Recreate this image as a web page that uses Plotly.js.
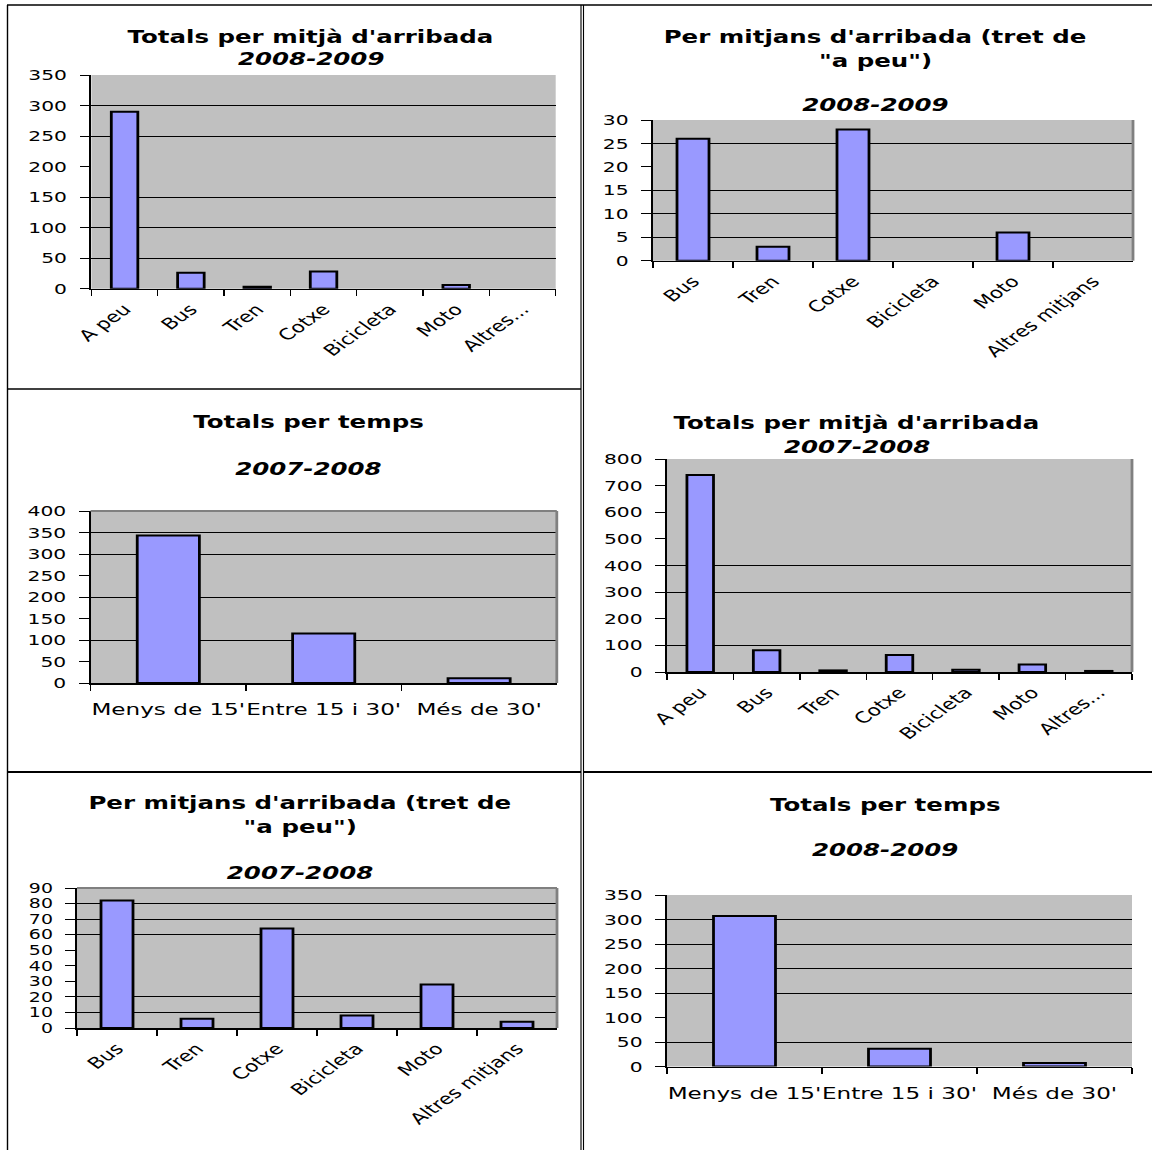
<!DOCTYPE html>
<html><head><meta charset="utf-8">
<script src="https://cdn.plot.ly/plotly-3.0.1.min.js"></script>
<style>
html,body{margin:0;padding:0;background:#fff;overflow:hidden;}
#chart{width:823px;height:1150px;transform:scaleX(1.39976);transform-origin:0 0;}
</style></head><body><div id="chart"></div>
<script>
// ---- data ----
const meansAll = ['A peu','Bus','Tren','Cotxe','Bicicleta','Moto','Altres...'];
const meansExcl = ['Bus','Tren','Cotxe','Bicicleta','Moto','Altres mitjans'];
const timeCats = ["Menys de 15'","Entre 15 i 30'","Més de 30'"];
const totals0809 = [290,26,3,28,0,6,0];
const excl0809 = [26,3,28,0,6,0];
const time0708 = [343,115,11];
const totals0708 = [740,82,6,64,8,28,4];
const excl0708 = [82,6,64,8,28,4];
const time0809 = [307,36,7];
const titleTotalsMeans = "Totals per mitjà d'arribada";
const titleExcl1 = "Per mitjans d'arribada (tret de";
const titleExcl2 = "\"a peu\")";
const titleTime = "Totals per temps";
const year0809 = "2008-2009";
const year0708 = "2007-2008";

// ---- layout of panels (pixel positions in the 1152x1150 picture) ----
const W = 1152, H = 1150;
const FONT = "DejaVu Sans";
const panels = [
  {cats: meansAll, vals: totals0809, px:[91.4,555.7], py:[75,288.7], range:[0,350], dtick:50, grid:[50,100,150,250,300], angle:-45, border:[],
   cx:311, titles:[["<b>"+titleTotalsMeans+"</b>",37],["<b><i>"+year0809+"</i></b>",59]], tf:14.5},
  {cats: meansExcl, vals: excl0809, px:[653,1133], py:[120,260.7], range:[0,30], dtick:5, grid:[5,10,15,25], angle:-45, border:['right'],
   cx:875, titles:[["<b>"+titleExcl1+"</b>",37],["<b>"+titleExcl2+"</b>",61],["<b><i>"+year0809+"</i></b>",105]], tf:14.5},
  {cats: timeCats, vals: time0708, px:[90.6,556.8], py:[511,683], range:[0,400], dtick:50, grid:[100,200,300,350], angle:0, border:['top','right'],
   cx:309, titles:[["<b>"+titleTime+"</b>",422],["<b><i>"+year0708+"</i></b>",469]], tf:14.5},
  {cats: meansAll, vals: totals0708, px:[667,1132], py:[459,672], range:[0,800], dtick:100, grid:[100,300,400], angle:-45, border:['right'],
   cx:857, titles:[["<b>"+titleTotalsMeans+"</b>",423],["<b><i>"+year0708+"</i></b>",447]], tf:14.5},
  {cats: meansExcl, vals: excl0708, px:[77,557], py:[888,1028], range:[0,90], dtick:10, grid:[10,20,60,70,80], angle:-45, border:['top','right'],
   cx:300, titles:[["<b>"+titleExcl1+"</b>",803],["<b>"+titleExcl2+"</b>",827],["<b><i>"+year0708+"</i></b>",873]], tf:13.5},
  {cats: timeCats, vals: time0809, px:[667,1132], py:[895,1066.5], range:[0,350], dtick:50, grid:[50,150,200,250,300], angle:0, border:[],
   cx:885, titles:[["<b>"+titleTime+"</b>",805],["<b><i>"+year0809+"</i></b>",850]], tf:14.5}
];

const data = [];
const layout = {
  width: 823, height: 1150,
  margin: {l:0, r:0, t:0, b:0},
  paper_bgcolor: '#ffffff',
  showlegend: false,
  bargap: 0.6,
  font: {family: FONT, color: '#000'},
  annotations: [],
  shapes: []
};

panels.forEach((p, i) => {
  const n = i + 1;
  const g = i + 7;
  const xs = n === 1 ? '' : String(n);
  const xa = 'x' + xs, ya = 'y' + xs, yg = 'y' + g;
  data.push({
    type: 'bar', x: p.cats, y: p.vals, xaxis: xa, yaxis: ya,
    marker: {color: '#9999FF', line: {color: '#000', width: p.vals.map(v => v > 0 ? 2 : 0)}},
    hoverinfo: 'x+y'
  });
  data.push({type: 'bar', x: [], y: [], xaxis: xa, yaxis: yg, showlegend: false, hoverinfo: 'skip'});
  layout['xaxis' + xs] = {
    domain: [p.px[0]/W, p.px[1]/W], anchor: ya, type: 'category',
    showgrid: false, zeroline: false, showline: true, linecolor: '#000', linewidth: 1.5,
    ticks: 'outside', tickson: 'boundaries', ticklen: 6, tickcolor: '#000', tickwidth: 1,
    tickangle: p.angle, ticklabelstandoff: p.angle === 0 ? 11 : 4,
    tickfont: {family: FONT, size: p.angle === 0 ? 16.5 : 15.5, color: '#000'},
    fixedrange: true
  };
  layout['yaxis' + xs] = {
    domain: [1 - p.py[1]/H, 1 - p.py[0]/H], anchor: xa,
    range: p.range, dtick: p.dtick, tick0: 0,
    showgrid: false, zeroline: false, showline: true, linecolor: '#000', linewidth: 1.5,
    ticks: 'outside', ticklen: 7, tickcolor: '#000', tickwidth: 1,
    ticklabelstandoff: 6,
    tickfont: {family: FONT, size: p.tf, color: '#000'},
    fixedrange: true
  };
  layout['yaxis' + g] = {
    overlaying: ya, anchor: xa, side: 'left', range: p.range,
    tickmode: 'array', tickvals: p.grid, showticklabels: false, ticks: '',
    showgrid: true, gridcolor: '#000', gridwidth: 1, zeroline: false, showline: false,
    fixedrange: true
  };
  layout.shapes.push({type:'rect', xref: xa + ' domain', yref: ya + ' domain', x0:0, x1:1, y0:0, y1:1,
    fillcolor:'#C0C0C0', line:{width:0}, layer:'below'});
  p.border.forEach(side => {
    const s = {type:'line', xref: xa + ' domain', yref: ya + ' domain', line:{color:'#808080', width:2}};
    if (side === 'right') Object.assign(s, {x0:1, x1:1, y0:0, y1:1});
    else Object.assign(s, {x0:0, x1:1, y0:1, y1:1});
    layout.shapes.push(s);
  });
  p.titles.forEach(t => {
    layout.annotations.push({
      xref:'paper', yref:'paper', x: p.cx/W, y: 1 - t[1]/H, xanchor:'center', yanchor:'middle',
      text: t[0], showarrow:false, font:{family: FONT, size: 17.5, color:'#000'}
    });
  });
});

// page frame lines
function hline(x0, x1, y, w){ layout.shapes.push({type:'line', xref:'paper', yref:'paper', x0:x0/W, x1:x1/W, y0:1-y/H, y1:1-y/H, line:{color:'#000', width:w}}); }
function vline(x, y0, y1, w){ layout.shapes.push({type:'line', xref:'paper', yref:'paper', x0:x/W, x1:x/W, y0:1-y0/H, y1:1-y1/H, line:{color:'#000', width:w}}); }
hline(7, 1152, 5, 1.5);
vline(7.5, 5, 1150, 1);
vline(581, 5, 1150, 0.8);
vline(583.5, 5, 1150, 0.8);
hline(7.5, 581, 389, 1.5);
hline(7.5, 581, 772, 2);
hline(583.5, 1152, 772, 2);

Plotly.newPlot('chart', data, layout, {staticPlot: true, displayModeBar: false});
</script></body></html>
